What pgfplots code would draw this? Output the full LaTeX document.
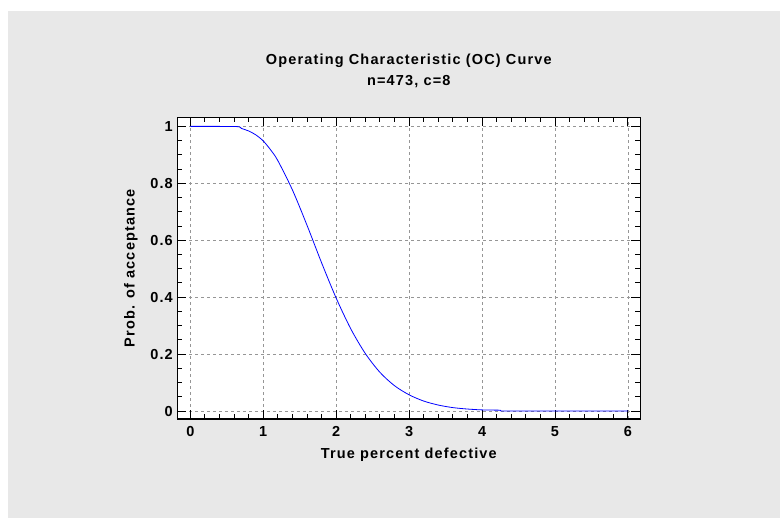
\documentclass[border=0pt]{standalone}
\usepackage{fontspec}
\setmainfont{Liberation Sans}[BoldFont={Liberation Sans Bold}, BoldFeatures={LetterSpace=8}]
\usepackage{pgfplots}
\pgfplotsset{compat=1.18}
\definecolor{bg}{RGB}{232,232,232}
\definecolor{gridc}{RGB}{150,150,150}
\newcommand{\ff}{\fontsize{14.5}{16.5}\selectfont\bfseries}
\begin{document}
\begin{tikzpicture}[x=1pt,y=1pt]
\useasboundingbox (0,0) rectangle (780,518);
\fill[bg] (8,0) rectangle (780,507);
\begin{axis}[
  at={(177.3pt,99pt)}, anchor=south west,
  scale only axis, width=463pt, height=301.7pt,
  xmin=-0.178, xmax=6.17, ymin=-0.028, ymax=1.032,
  axis background/.style={fill=white},
  xtick={0,1,2,3,4,5,6},
  ytick={0,0.2,0.4,0.6,0.8,1},
  yticklabels={0,0.2,0.4,0.6,0.8,1},
  minor x tick num=4, minor y tick num=3,
  tick align=inside,
  major tick length=9pt, minor tick length=5pt,
  grid=major,
  major grid style={gridc, line width=0.8pt, dash pattern=on 3pt off 3pt},
  axis line style={line width=1.3pt},
  every tick/.style={black, line width=0.9pt},
  /pgf/number format/assume math mode=true,
  tick label style={font=\ff},
  xticklabel style={yshift=-4pt},
  yticklabel style={xshift=-1pt},
  label style={font=\ff},
  xlabel={True percent defective},
  ylabel={Prob. of acceptance},
  xlabel style={at={(axis description cs:0.5,-0.1193)}, anchor=center},
  ylabel style={at={(axis description cs:-0.1,0.5)}, anchor=center},
]
\addplot[blue, line width=0.8pt, smooth, tension=0.5] coordinates {
(0,1) (0.4,1) (0.66,0.999) (0.7,0.993) (0.8,0.984) (0.9,0.970) (1.0,0.949)
(1.1,0.918) (1.2,0.880) (1.4,0.777) (1.6,0.653) (1.8,0.521) (2.0,0.397)
(2.2,0.289) (2.4,0.202) (2.6,0.136) (2.8,0.089) (3.0,0.057) (3.2,0.035)
(3.4,0.021) (3.6,0.012) (3.8,0.007) (4.0,0.004) (4.25,0.003)
};
\addplot[blue, line width=0.8pt] coordinates {
(4.25,0.003) (4.26,0) (6,0)
};
\end{axis}
\node[anchor=base, font=\ff] at (408.8,453) {Operating Characteristic (OC) Curve};
\node[anchor=base, font=\ff] at (408.8,432) {n=473, c=8};
\end{tikzpicture}
\end{document}
